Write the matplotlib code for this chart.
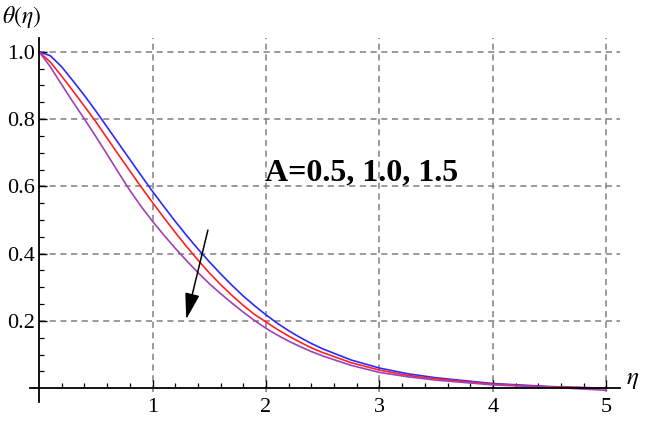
import numpy as np
import matplotlib
matplotlib.use("Agg")
import matplotlib.pyplot as plt

# theta(eta) profiles for A = 0.5, 1.0, 1.5
eta = [0, 0.1, 0.2, 0.3, 0.4, 0.5, 0.6, 0.7, 0.8, 0.9, 1.0,
       1.1, 1.2, 1.3, 1.4, 1.5, 1.6, 1.7, 1.8, 1.9, 2.0,
       2.1, 2.2, 2.3, 2.4, 2.5, 2.75, 3.0, 3.25, 3.5, 4.0, 4.5, 5.0]
theta_A05 = [1.000, 0.988, 0.955, 0.913, 0.870, 0.824, 0.776, 0.728, 0.680, 0.632, 0.585,
             0.540, 0.496, 0.454, 0.414, 0.376, 0.340, 0.306, 0.274, 0.245, 0.218,
             0.193, 0.171, 0.151, 0.133, 0.117, 0.084, 0.060, 0.043, 0.031, 0.014, 0.005, 0.000]
theta_A10 = [1.000, 0.969, 0.927, 0.883, 0.838, 0.792, 0.743, 0.694, 0.646, 0.598, 0.552,
             0.507, 0.463, 0.421, 0.381, 0.343, 0.308, 0.276, 0.246, 0.219, 0.197,
             0.175, 0.155, 0.137, 0.120, 0.106, 0.076, 0.054, 0.038, 0.028, 0.012, 0.004, 0.000]
theta_A15 = [1.000, 0.955, 0.902, 0.850, 0.800, 0.748, 0.695, 0.641, 0.588, 0.540, 0.496,
             0.455, 0.416, 0.379, 0.344, 0.311, 0.281, 0.253, 0.226, 0.201, 0.178,
             0.158, 0.140, 0.124, 0.109, 0.096, 0.068, 0.047, 0.034, 0.024, 0.010, 0.003, -0.006]

xticks = [1, 2, 3, 4, 5]
yticks = [0.2, 0.4, 0.6, 0.8, 1.0]
ytick_labels = ["0.2", "0.4", "0.6", "0.8", "1.0"]

plt.rcParams['font.family'] = ['Liberation Serif', 'DejaVu Serif']
plt.rcParams['mathtext.fontset'] = 'stix'

fig = plt.figure(figsize=(6.46, 4.23), dpi=100)
ax = fig.add_axes([30 / 646, 1 - 401.7 / 423, 590 / 646, 363.4 / 423])
ax.set_xlim(-0.08, 5.12)
ax.set_ylim(-0.04, 1.04)

# 虚线网格
grid_kw = dict(color='#7f7f7f', linestyle=(0, (4, 3)), linewidth=1.1, zorder=1)
ax.hlines(yticks, 0, 5.12, **grid_kw)
ax.vlines(xticks, -0.012, 1.04, **grid_kw)

ax.plot(eta, theta_A05, color='#2a2aff', lw=1.2, zorder=3)
ax.plot(eta, theta_A10, color='#ff2020', lw=1.2, zorder=3)
ax.plot(eta, theta_A15, color='#a040b8', lw=1.2, zorder=3)

# 坐标轴穿过原点
for s in ['top', 'right']:
    ax.spines[s].set_visible(False)
ax.spines['left'].set_position(('data', 0))
ax.spines['bottom'].set_position(('data', 0))
ax.spines['left'].set_linewidth(1.3)
ax.spines['bottom'].set_linewidth(1.3)
ax.spines['left'].set_zorder(5)
ax.spines['bottom'].set_zorder(5)

ax.set_xticks(xticks)
ax.set_xticklabels([str(t) for t in xticks])
ax.set_yticks(yticks)
ax.set_yticklabels(ytick_labels)
ax.set_xticks(np.arange(0.2, 5.01, 0.2), minor=True)
ax.set_yticks(np.arange(0.05, 1.001, 0.05), minor=True)
ax.tick_params(which='major', direction='in', length=6, width=1.0, labelsize=16)
ax.tick_params(which='minor', direction='in', length=3.5, width=0.9)
ax.tick_params(axis='x', which='major', pad=7)
ax.tick_params(axis='y', which='major', pad=3)

ax.text(-0.33, 1.103, r'$\theta(\eta)$', fontsize=17, va='center', ha='left', clip_on=False)
ax.text(5.17, 0.025, r'$\eta$', fontsize=18, va='center', ha='left', clip_on=False)

ax.text(1.99, 0.64, 'A=0.5, 1.0, 1.5', fontsize=23, fontweight='bold', va='center', ha='left')
ax.annotate('', xy=(1.297, 0.205), xytext=(1.488, 0.470),
            arrowprops=dict(arrowstyle='-|>,head_length=1.0,head_width=0.28', color='black',
                            lw=1.1, mutation_scale=16, shrinkA=0, shrinkB=0), zorder=4)

plt.savefig('out.png', dpi=100)
